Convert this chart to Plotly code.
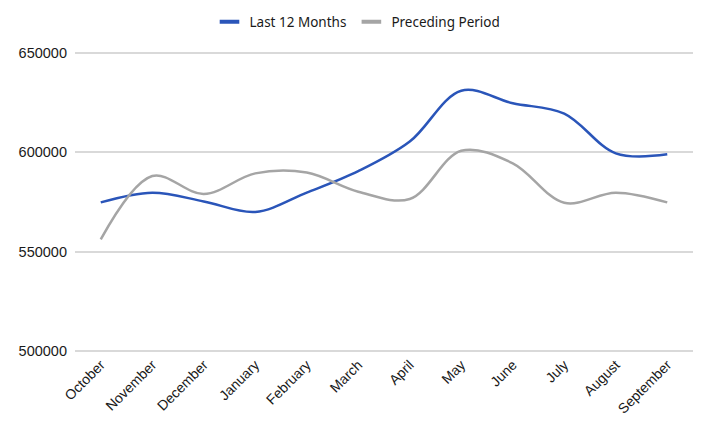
import plotly.graph_objects as go

# months and values
months = ["October", "November", "December", "January", "February", "March",
          "April", "May", "June", "July", "August", "September"]
last_12 = [574800, 579700, 575300, 570000, 579700, 590500,
           605400, 631000, 624700, 619500, 599500, 599000]
preceding = [556200, 588100, 579000, 589400, 589800, 580200,
             576500, 600800, 594500, 574600, 579700, 574800]
y_ticks = [500000, 550000, 600000, 650000]

series = [("Last 12 Months", last_12, "#2a55b9"),
          ("Preceding Period", preceding, "#a5a5a5")]

fig = go.Figure()

for name, vals, color in series:
    fig.add_trace(go.Scatter(
        x=months, y=vals, mode="lines", name=name, showlegend=False,
        line=dict(color=color, width=2.5, shape="spline", smoothing=1.0)
    ))
    # legend entry only: short thick bar like the original
    fig.add_trace(go.Scatter(
        x=[None], y=[None], mode="markers", name=name,
        marker=dict(symbol="line-ew", size=14, line=dict(color=color, width=4))
    ))

fig.update_layout(
    width=699, height=423,
    margin=dict(l=67, r=14, t=43, b=78),
    paper_bgcolor="white", plot_bgcolor="white",
    font=dict(family="Liberation Sans, Arial, sans-serif", size=14, color="#1a1a1a"),
    legend=dict(orientation="h", x=0.5, xanchor="center", xref="container",
                y=0.967, yanchor="middle", yref="container",
                font=dict(family="Noto Sans, sans-serif", size=13.5), itemwidth=30),
)
fig.update_xaxes(range=[-0.5, 11.5], tickangle=-45, showgrid=False, automargin=False,
                 showline=False, ticks="", tickfont=dict(size=14))
# pad the range a little so the edge grid lines are still drawn
fig.update_yaxes(range=[499000, 651000], tickvals=y_ticks,
                 ticktext=[str(v) for v in y_ticks], automargin=False,
                 showgrid=True, gridcolor="#d9d9d9", gridwidth=1.5, zeroline=False,
                 ticks="", ticklabelstandoff=7, tickfont=dict(size=14.5))

fig.write_html("out.html")
